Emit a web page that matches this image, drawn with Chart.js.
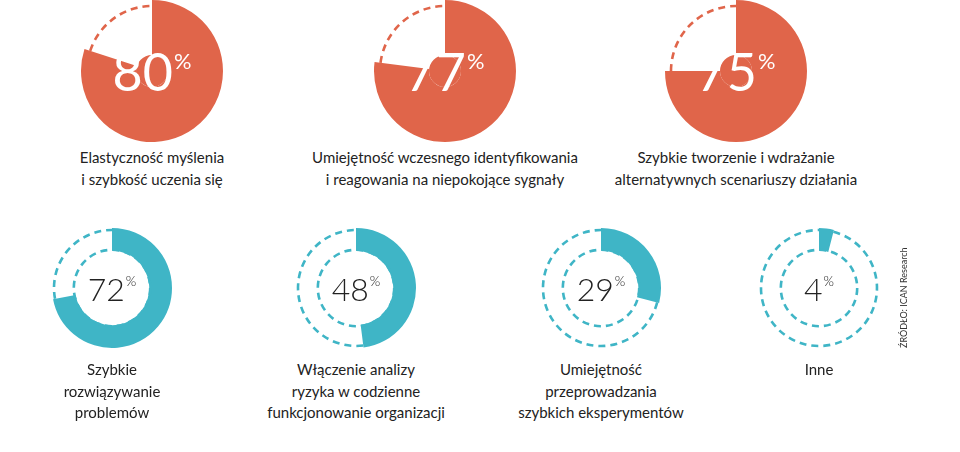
<!DOCTYPE html><html><head><meta charset="utf-8">
<script src="https://cdn.jsdelivr.net/npm/chart.js@4"></script>
<style>
body{margin:0;width:960px;height:452px;background:#fff;position:relative;overflow:hidden;font-family:Lato,"Open Sans",sans-serif}
.c{position:absolute}
.num{position:absolute;transform:translate(-50%,-50%);white-space:nowrap}
.num sup{font-size:42%;vertical-align:top;position:relative;top:0.3em;margin-left:1px}
.lab{position:absolute;transform:translateX(-50%);text-align:center;font-size:15px;line-height:21.5px;color:#222;white-space:nowrap}
.src{position:absolute;left:898px;top:348px;transform:rotate(-90deg);transform-origin:left top;font-size:9px;color:#333;white-space:nowrap}
</style></head><body>
<script>
const topValues=[80,77,75];
const topLabels=[["Elastyczność myślenia","i szybkość uczenia się"],["Umiejętność wczesnego identyfikowania","i reagowania na niepokojące sygnały"],["Szybkie tworzenie i wdrażanie","alternatywnych scenariuszy działania"]];
const bottomValues=[72,48,29,4];
const bottomLabels=[["Szybkie","rozwiązywanie","problemów"],["Włączenie analizy","ryzyka w codzienne","funkcjonowanie organizacji"],["Umiejętność","przeprowadzania","szybkich eksperymentów"],["Inne"]];
const sourceText="ŹRÓDŁO: ICAN Research";
const topCenters=[[152,71],[445,71],[736,71]];
const bottomCenters=[[112,288],[356,288],[601,288],[819,288]];
const ORANGE="#E0654A",TEAL="#3FB5C6";

const dashPlugin={id:'dash',afterDatasetsDraw(chart,args,opts){
  const meta=chart.getDatasetMeta(0);const a=meta.data[1];const ctx=chart.ctx;
  const f=meta.data[0];
  ctx.save();ctx.strokeStyle=opts.color;ctx.lineWidth=2.6;ctx.setLineDash([7,5]);
  const r=a.outerRadius-opts.outerInset;
  ctx.beginPath();ctx.arc(a.x,a.y,r,a.startAngle,a.endAngle);ctx.stroke();
  if(opts.inner){ctx.beginPath();ctx.arc(a.x,a.y,f.innerRadius+1,0,Math.PI*2);ctx.stroke();}
  ctx.restore();}};

function make(cx,cy,R,val,color,cut,inner,num,numColor,numSize,numWeight){
  const cv=document.createElement('canvas');const s=2*R+6;
  const d=document.createElement('div');d.className='c';d.style.left=(cx-s/2)+'px';d.style.top=(cy-s/2)+'px';d.style.width=s+'px';d.style.height=s+'px';
  d.appendChild(cv);document.body.appendChild(d);
  const ds=[{data:[val,100-val],backgroundColor:[color,'rgba(0,0,0,0)'],borderWidth:0,weight:55}];
  if(!inner) ds.push({data:[100],backgroundColor:[color],borderWidth:0,weight:16});
  new Chart(cv,{type:'doughnut',data:{datasets:ds},
    options:{responsive:true,maintainAspectRatio:false,animation:false,cutout:cut,layout:{padding:3},
    plugins:{legend:{display:false},tooltip:{enabled:false},dash:{color:color,outerInset:inner?2:6,inner:inner}}},plugins:[dashPlugin]});
  const n=document.createElement('div');n.className='num';n.style.left=cx+'px';n.style.top=cy+'px';n.style.color=numColor;n.style.fontSize=numSize+'px';n.style.fontWeight=numWeight;
  n.innerHTML=num+'<sup>%</sup>';document.body.appendChild(n);
}
function label(cx,y,lines){const l=document.createElement('div');l.className='lab';l.style.left=cx+'px';l.style.top=y+'px';l.innerHTML=lines.join('<br>');document.body.appendChild(l);}
topValues.forEach((v,i)=>{make(topCenters[i][0],topCenters[i][1],71,v,ORANGE,0,false,v,'#fff',52,400);label(topCenters[i][0],147,topLabels[i]);});
bottomValues.forEach((v,i)=>{make(bottomCenters[i][0],bottomCenters[i][1],60,v,TEAL,'62%',true,v,'#222',32,300);label(bottomCenters[i][0],359,bottomLabels[i]);});
const s=document.createElement('div');s.className='src';s.textContent=sourceText;document.body.appendChild(s);
</script></body></html>
